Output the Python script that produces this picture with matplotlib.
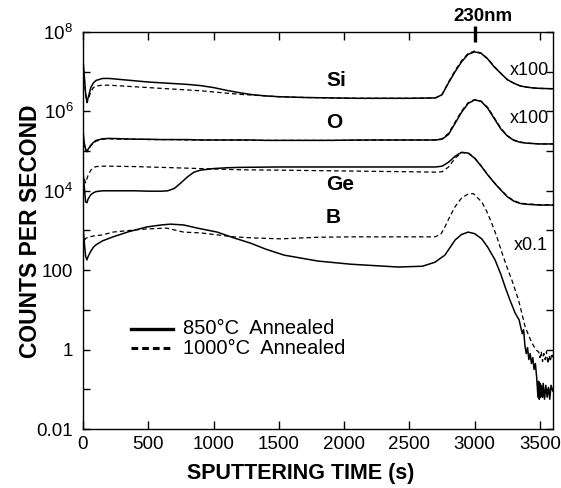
import numpy as np
import matplotlib
matplotlib.use("Agg")
import matplotlib.pyplot as plt
from matplotlib.ticker import FixedLocator, FuncFormatter

# log10(counts per second), per element and anneal
si_t = [0, 10, 20, 30, 40, 60, 80, 100, 150, 200, 300, 400, 500, 600, 700, 800, 900, 1000,
        1100, 1200, 1300, 1400, 1500, 1700, 1900, 2100, 2300, 2500, 2700, 2750, 2800, 2850,
        2900, 2950, 3000, 3050, 3100, 3150, 3200, 3250, 3300, 3350, 3400, 3450, 3500, 3600]
si_850 = [7.3, 6.9, 6.45, 6.24, 6.35, 6.6, 6.72, 6.78, 6.83, 6.83, 6.80, 6.77, 6.74, 6.72,
          6.70, 6.68, 6.65, 6.60, 6.53, 6.47, 6.42, 6.39, 6.37, 6.35, 6.34, 6.33, 6.33, 6.33,
          6.34, 6.42, 6.72, 7.0, 7.25, 7.44, 7.5, 7.46, 7.32, 7.12, 6.96, 6.8, 6.71, 6.64,
          6.61, 6.59, 6.58, 6.57]
si_1000 = [7.2, 6.8, 6.45, 6.22, 6.3, 6.5, 6.6, 6.64, 6.66, 6.66, 6.64, 6.62, 6.60, 6.58,
           6.56, 6.54, 6.52, 6.49, 6.46, 6.43, 6.41, 6.39, 6.37, 6.35, 6.34, 6.33, 6.33, 6.33,
           6.34, 6.43, 6.74, 7.03, 7.28, 7.46, 7.52, 7.47, 7.33, 7.13, 6.96, 6.8, 6.71, 6.64,
           6.61, 6.59, 6.58, 6.57]

o_t = si_t
o_850 = [5.5, 5.2, 5.05, 5.0, 5.05, 5.15, 5.22, 5.27, 5.31, 5.32, 5.31, 5.3, 5.3, 5.29,
         5.29, 5.29, 5.28, 5.28, 5.28, 5.28, 5.28, 5.27, 5.27, 5.27, 5.27, 5.28, 5.28, 5.28,
         5.28, 5.3, 5.42, 5.7, 5.98, 6.2, 6.29, 6.25, 6.08, 5.82, 5.56, 5.38, 5.27, 5.22,
         5.2, 5.19, 5.18, 5.18]
o_1000 = [5.4, 5.15, 5.02, 4.98, 5.03, 5.13, 5.2, 5.25, 5.3, 5.31, 5.3, 5.3, 5.29, 5.29,
          5.29, 5.28, 5.28, 5.28, 5.28, 5.28, 5.27, 5.27, 5.27, 5.27, 5.27, 5.27, 5.28, 5.28,
          5.28, 5.31, 5.45, 5.73, 6.01, 6.22, 6.3, 6.26, 6.1, 5.84, 5.58, 5.39, 5.28, 5.23,
          5.2, 5.19, 5.18, 5.18]

ge_t_850 = [0, 10, 20, 30, 40, 60, 80, 100, 150, 200, 300, 400, 500, 600, 650, 700, 750,
            800, 850, 900, 1000, 1100, 1200, 1500, 2000, 2500, 2700, 2750, 2800, 2850, 2900,
            2950, 3000, 3050, 3100, 3150, 3200, 3250, 3300, 3350, 3400, 3500, 3600]
ge_850 = [4.5, 4.1, 3.72, 3.7, 3.8, 3.9, 3.95, 3.98, 4.0, 4.0, 4.0, 4.0, 3.99, 3.99, 4.0,
          4.06, 4.2, 4.35, 4.47, 4.52, 4.56, 4.58, 4.59, 4.6, 4.6, 4.6, 4.6, 4.62, 4.72, 4.87,
          4.97, 4.95, 4.82, 4.62, 4.4, 4.2, 4.02, 3.85, 3.74, 3.68, 3.66, 3.64, 3.64]
ge_t_1000 = [10, 20, 30, 40, 60, 80, 100, 150, 200, 400, 600, 800, 1000, 1200, 1500, 2000,
             2500, 2700, 2750, 2800, 2850, 2900, 2950, 3000, 3050, 3100, 3150, 3200, 3250,
             3300, 3350, 3400, 3500, 3600]
ge_1000 = [4.3, 4.2, 4.3, 4.4, 4.52, 4.58, 4.61, 4.62, 4.62, 4.61, 4.59, 4.57, 4.55, 4.53,
           4.52, 4.5, 4.48, 4.47, 4.48, 4.6, 4.82, 4.96, 4.96, 4.83, 4.63, 4.41, 4.21, 4.03,
           3.86, 3.75, 3.69, 3.67, 3.65, 3.65]

b_t_850 = [0, 10, 20, 30, 40, 60, 80, 100, 150, 230, 350, 490, 600, 670, 770, 876, 1028,
           1150, 1285, 1400, 1540, 1800, 2054, 2415, 2600, 2695, 2772, 2850, 2900, 2950,
           3000, 3054, 3100, 3156, 3200, 3233, 3270, 3310, 3340, 3365, 3375, 3385, 3395,
           3405, 3415, 3425, 3435, 3445, 3455, 3465, 3475, 3485, 3490, 3495, 3500, 3505,
           3510, 3520, 3525, 3535, 3545, 3555, 3565, 3575, 3585, 3595, 3600]
b_850 = [3.1, 2.7, 2.35, 2.26, 2.35, 2.48, 2.58, 2.64, 2.74, 2.84, 2.97, 3.09, 3.14, 3.16,
         3.14, 3.06, 2.96, 2.82, 2.68, 2.53, 2.38, 2.23, 2.15, 2.08, 2.1, 2.2, 2.38, 2.76,
         2.9, 2.96, 2.92, 2.79, 2.58, 2.26, 1.9, 1.58, 1.25, 0.92, 0.75, 0.4, 0.5, 0.1, -0.1,
         0.05, -0.25, -0.1, -0.35, -0.2, -0.5, -0.35, -0.7, -1.2, -0.8, -1.25, -0.85, -1.2,
         -0.9, -1.2, -0.85, -1.25, -0.9, -1.2, -0.95, -1.25, -0.9, -1.0, -1.05]
b_t_1000 = [10, 20, 40, 77, 150, 230, 385, 490, 640, 770, 900, 1155, 1330, 1515, 1800, 2054,
            2415, 2695, 2740, 2772, 2810, 2850, 2900, 2950, 2990, 3054, 3090, 3130, 3170,
            3207, 3245, 3285, 3336, 3387, 3438, 3460, 3475, 3490, 3500, 3510, 3520, 3530,
            3540, 3550, 3560, 3570, 3580, 3590, 3600]
b_1000 = [2.75, 2.8, 2.83, 2.86, 2.89, 2.96, 3.01, 3.04, 3.06, 2.96, 2.94, 2.84, 2.81, 2.79,
          2.83, 2.84, 2.84, 2.84, 2.9, 3.09, 3.35, 3.6, 3.82, 3.92, 3.93, 3.72, 3.5, 3.19,
          2.84, 2.46, 2.1, 1.75, 1.25, 0.57, 0.17, 0.05, -0.02, -0.06, -0.2, -0.05, -0.3,
          -0.1, -0.25, -0.05, -0.35, -0.15, -0.3, -0.1, -0.2]

x_ticks = [0, 500, 1000, 1500, 2000, 2500, 3000, 3500]
y_labels = {-2: "0.01", 0: "1", 2: "100", 4: r"$\mathregular{10^{4}}$",
            6: r"$\mathregular{10^{6}}$", 8: r"$\mathregular{10^{8}}$"}

plt.rcParams["font.family"] = ["Liberation Sans", "DejaVu Sans"]
plt.rcParams["mathtext.fontset"] = "custom"
plt.rcParams["mathtext.rm"] = "Liberation Sans"

fig = plt.figure(figsize=(5.61, 4.88), dpi=100)
ax = fig.add_axes([83 / 561, 1 - 429 / 488, 470 / 561, 397 / 488])

solid = dict(color="black", lw=1.1, solid_joinstyle="round")
dashed = dict(color="black", lw=0.9, dashes=(3.6, 2.4))
pairs = [(si_t, si_850, si_t, si_1000), (o_t, o_850, o_t, o_1000),
         (ge_t_850, ge_850, ge_t_1000, ge_1000), (b_t_850, b_850, b_t_1000, b_1000)]
for t1, v1, t2, v2 in pairs:
    ax.plot(t2, 10.0 ** np.array(v2), **dashed)
    ax.plot(t1, 10.0 ** np.array(v1), **solid)

ax.set_yscale("log")
ax.set_xlim(0, 3600)
ax.set_ylim(1e-2, 1e8)
ax.xaxis.set_major_locator(FixedLocator(x_ticks))
ax.yaxis.set_major_locator(FixedLocator([10.0 ** k for k in range(-2, 9)]))
ax.yaxis.set_minor_locator(FixedLocator([]))
ax.yaxis.set_major_formatter(FuncFormatter(
    lambda v, pos: y_labels.get(int(round(np.log10(v))), "")))
ax.tick_params(axis="x", direction="in", length=6, width=1, top=True,
               labelsize=13.5, pad=5)
ax.tick_params(axis="y", direction="in", length=5, width=1, right=True,
               labelsize=13.5, pad=7)
for s in ax.spines.values():
    s.set_linewidth(1)

# element labels and scale factors
for name, ly in [("Si", 6.79), ("O", 5.71), ("Ge", 4.15), ("B", 3.34)]:
    ax.text(1862, 10 ** ly, name, fontsize=15, fontweight="bold", va="center", ha="left")
for txt, tx, ly in [("x100", 3270, 7.02), ("x100", 3270, 5.83), ("x0.1", 3300, 2.63)]:
    ax.text(tx, 10 ** ly, txt, fontsize=13, va="center", ha="left")

# 230nm marker
ax.plot([3000, 3000], [10 ** 7.75, 10 ** 8.15], color="black", lw=2.4, clip_on=False,
        solid_capstyle="butt")
ax.text(3060, 10 ** 8.38, "230nm", fontsize=13.5, fontweight="bold", ha="center",
        va="center", clip_on=False)

# legend drawn by hand
ax.plot([0.102, 0.191], [0.252, 0.252], transform=ax.transAxes, color="black", lw=2.4)
ax.plot([0.102, 0.191], [0.204, 0.204], transform=ax.transAxes, color="black", lw=2.2,
        dashes=(2.2, 1.3))
ax.text(0.213, 0.252, "850°C  Annealed", transform=ax.transAxes, fontsize=14.5, va="center")
ax.text(0.213, 0.204, "1000°C  Annealed", transform=ax.transAxes, fontsize=14.5, va="center")

fig.text(31 / 561, 1 - 231 / 488, "COUNTS PER SECOND", rotation=90, ha="center",
         va="center", fontsize=16.5, fontweight="bold")
fig.text(301 / 561, 1 - 474 / 488, "SPUTTERING TIME (s)", ha="center", va="center",
         fontsize=15.5, fontweight="bold")

fig.savefig("out.png", dpi=100)
